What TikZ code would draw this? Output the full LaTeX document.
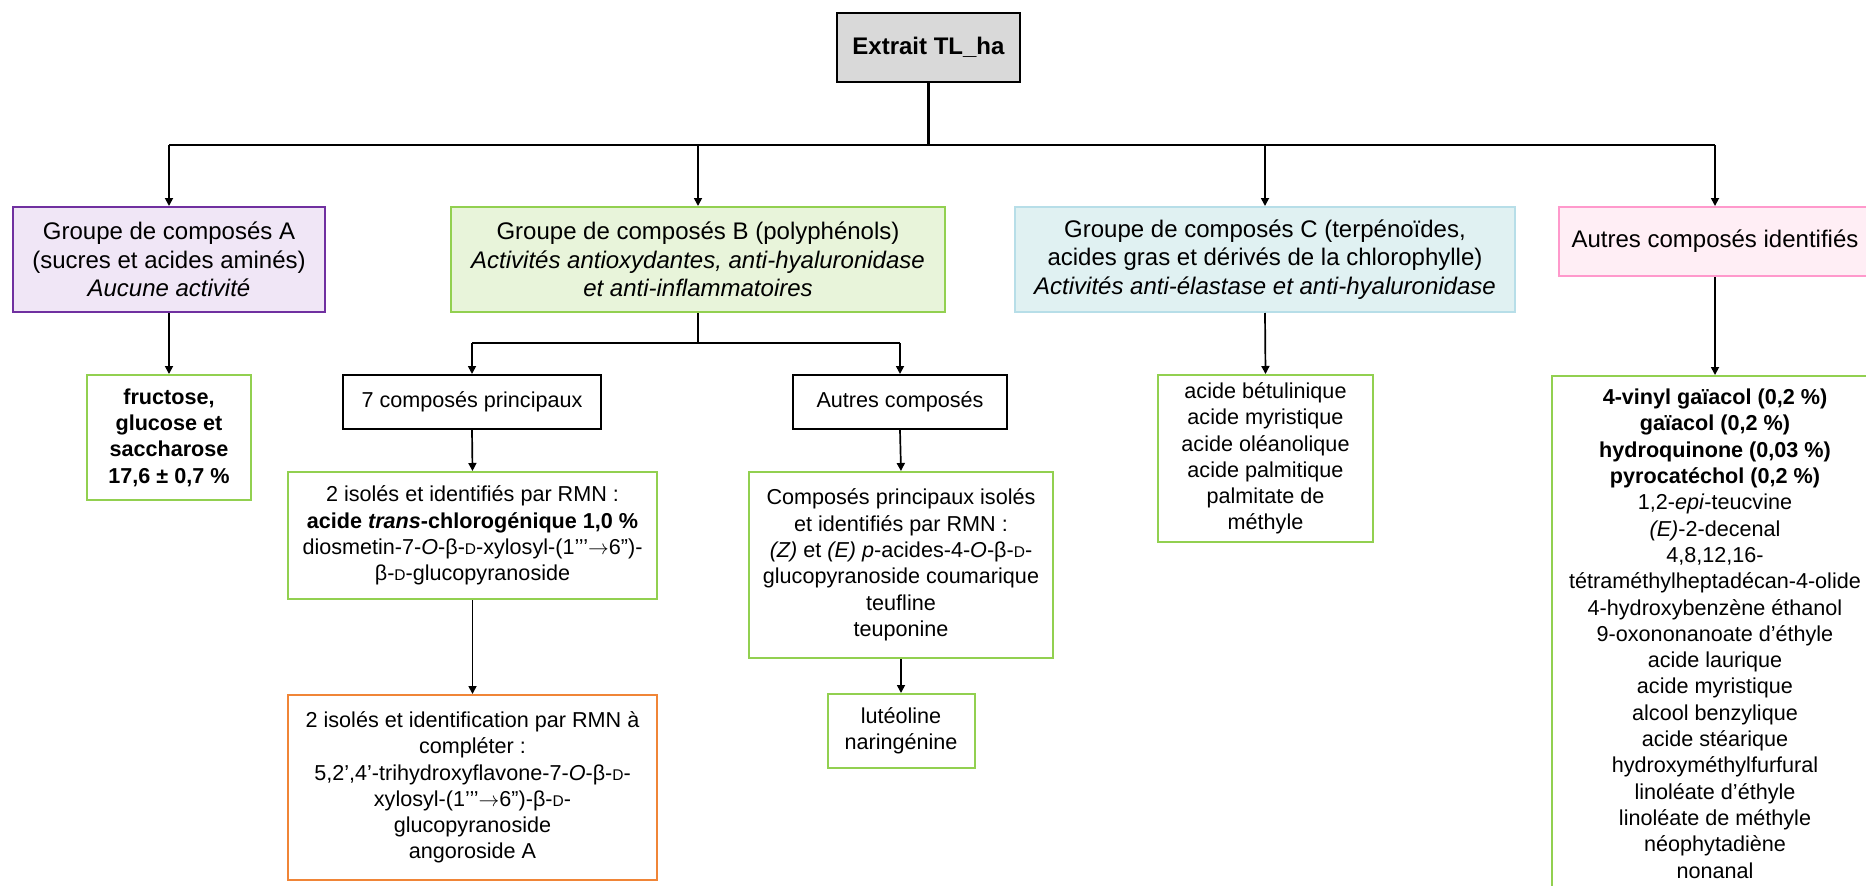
\documentclass[tikz,border=0pt]{standalone}
\usepackage{fontspec}
\setmainfont{Liberation Sans}
\usetikzlibrary{arrows.meta}
\definecolor{purpleB}{HTML}{7030A0}
\definecolor{purpleF}{HTML}{F0E6F6}
\definecolor{greenB}{HTML}{92D050}
\definecolor{greenF}{HTML}{E8F4DA}
\definecolor{tealB}{HTML}{B7DEE8}
\definecolor{tealF}{HTML}{E0F1F2}
\definecolor{pinkB}{HTML}{FF99CC}
\definecolor{pinkF}{HTML}{FFEEF5}
\definecolor{orangeB}{HTML}{F08537}
\definecolor{grayF}{HTML}{D9D9D9}
\newcommand\fsBig{\fontsize{24pt}{28.5pt}\selectfont}
\newcommand\fsSmall{\fontsize{21.6pt}{26.3pt}\selectfont}
\newcommand\scD{{\fontsize{15.5pt}{15.5pt}\selectfont D}}
\newcommand\rarr{\ensuremath{\rightarrow}}
\tikzset{
  boxbig/.style={draw, line width=2pt, inner sep=0pt, align=center, font=\fsBig},
  boxsmall/.style={draw, line width=2pt, inner sep=0pt, align=center, font=\fsSmall},
  greenbox/.style={boxsmall, draw=greenB},
  busline/.style={line width=2.4pt, draw=black},
  arr/.style={line width=1.7pt, draw=black, -{Triangle[width=8pt,length=8pt]}},
}
\begin{document}
\begin{tikzpicture}[x=1pt,y=-1pt]
\useasboundingbox (0,0) rectangle (1866,886);
% top
\node[boxbig, fill=grayF, line width=2.5pt, minimum width=183pt, minimum height=69pt] (ext) at (928.5,47.5) {\textbf{Extrait TL\_ha}};
% level 1
\node[boxbig, draw=purpleB, fill=purpleF, minimum width=312pt, minimum height=105pt] (A) at (169,259.5)
  {Groupe de composés A\\(sucres et acides aminés)\\\textit{Aucune activité}};
\node[boxbig, draw=greenB, fill=greenF, minimum width=494pt, minimum height=105pt] (B) at (698,259.5)
  {Groupe de composés B (polyphénols)\\\textit{Activités antioxydantes, anti-hyaluronidase}\\\textit{et anti-inflammatoires}};
\node[boxbig, draw=tealB, fill=tealF, minimum width=500pt, minimum height=105pt] (C) at (1265,259.5)
  {Groupe de composés C (terpénoïdes,\\acides gras et dérivés de la chlorophylle)\\\textit{Activités anti-élastase et anti-hyaluronidase}};
\node[boxbig, draw=pinkB, fill=pinkF, minimum width=312pt, minimum height=69pt] (D) at (1715,241.5)
  {Autres composés identifiés};
% level 2
\node[greenbox, minimum width=164pt, minimum height=125pt] (fru) at (169,437.5)
  {\textbf{fructose,}\\\textbf{glucose et}\\\textbf{saccharose}\\\textbf{17,6 ± 0,7 \%}};
\node[boxsmall, minimum width=258pt, minimum height=54pt] (p7) at (472,402) {7 composés principaux};
\node[boxsmall, minimum width=214pt, minimum height=54pt] (ac) at (900,402) {Autres composés};
\node[greenbox, minimum width=215pt, minimum height=167pt] (clist) at (1265.5,458.5)
  {acide bétulinique\\acide myristique\\acide oléanolique\\acide palmitique\\palmitate de\\méthyle};
\node[greenbox, anchor=north, minimum width=326pt, inner ysep=13pt] (dlist) at (1715,375)
  {\textbf{4-vinyl gaïacol (0,2 \%)}\\\textbf{gaïacol (0,2 \%)}\\\textbf{hydroquinone (0,03 \%)}\\\textbf{pyrocatéchol (0,2 \%)}\\
   1,2-\textit{epi}-teucvine\\\textit{(E)}-2-decenal\\4,8,12,16-\\tétraméthylheptadécan-4-olide\\
   4-hydroxybenzène éthanol\\9-oxononanoate d’éthyle\\acide laurique\\acide myristique\\alcool benzylique\\
   acide stéarique\\hydroxyméthylfurfural\\linoléate d’éthyle\\linoléate de méthyle\\néophytadiène\\nonanal};
% level 3
\node[greenbox, minimum width=369pt, minimum height=127pt] (iso) at (472.5,535.5)
  {2 isolés et identifiés par RMN :\\\textbf{acide \textit{trans}-chlorogénique 1,0 \%}\\diosmetin-7-\textit{O}-β-\scD-xylosyl-(1’’’\rarr6”)-\\β-\scD-glucopyranoside};
\node[greenbox, minimum width=304pt, minimum height=186pt] (cp) at (901,565)
  {Composés principaux isolés\\et identifiés par RMN :\\\textit{(Z)} et \textit{(E)} \textit{p}-acides-4-\textit{O}-β-\scD-\\glucopyranoside coumarique\\teufline\\teuponine};
% level 4
\node[boxsmall, draw=orangeB, minimum width=369pt, minimum height=185pt] (orn) at (472.5,787.5)
  {2 isolés et identification par RMN à\\compléter :\\5,2’,4’-trihydroxyflavone-7-\textit{O}-β-\scD-\\xylosyl-(1’’’\rarr6”)-β-\scD-\\glucopyranoside\\angoroside A};
\node[greenbox, minimum width=147pt, minimum height=74pt] (lut) at (901,731)
  {lutéoline\\naringénine};
% connectors
\coordinate (bus) at (928.5,145);
\coordinate (busB) at (698,343);
\draw[busline] (ext.south) -- (bus);
\draw[busline] (A.north |- bus) -- (D.north |- bus);
\foreach \n in {A,B,C,D} \draw[arr] (\n.north |- bus) -- (\n.north);
\draw[arr] (A.south) -- (fru.north);
\draw[busline] (B.south) -- (busB);
\draw[busline] (p7.north |- busB) -- (ac.north |- busB);
\draw[arr] (p7.north |- busB) -- (p7.north);
\draw[arr] (ac.north |- busB) -- (ac.north);
\draw[arr] (C.south) -- (clist.north);
\draw[arr] (D.south) -- (dlist.north);
\draw[arr] (p7.south) -- (iso.north);
\draw[arr] (iso.south) -- (orn.north);
\draw[arr] (ac.south) -- (cp.north);
\draw[arr] (cp.south) -- (lut.north);
\end{tikzpicture}
\end{document}
